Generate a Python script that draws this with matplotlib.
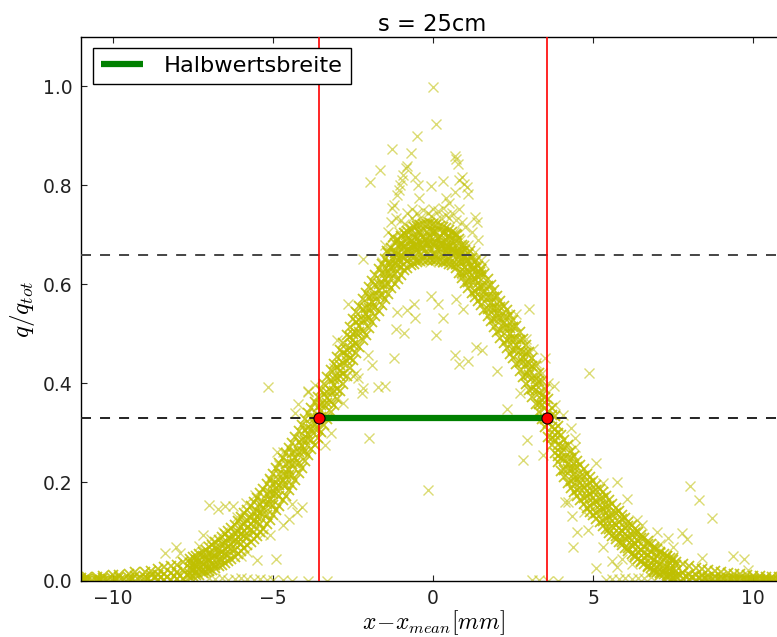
import matplotlib
matplotlib.use("Agg")
import matplotlib.pyplot as plt

# Main band: stations along x with hand-read lower edge, centre and upper edge
tail_l_x = [-11.0,-10.8,-10.5,-10.3,-10.0,-9.8,-9.5,-9.3,-9.0,-8.8,-8.6,-8.4,-8.2,-8.0,-7.8]
tail_l_lo = [.000,.001,.000,.001,.001,.000,.002,.001,.002,.001,.003,.002,.003,.004,.005]
tail_l_mid = [.003,.005,.004,.006,.005,.008,.007,.010,.009,.012,.013,.015,.016,.018,.022]
tail_l_hi = [.007,.009,.008,.011,.012,.013,.015,.018,.019,.021,.024,.028,.030,.033,.038]
tail_l_x2 = [-10.9,-10.65,-10.4,-10.15,-9.9,-9.65,-9.4,-9.15,-8.9,-8.7,-8.5,-8.3,-8.1,-7.9,-7.7]
tail_l_y2 = [.002,.003,.002,.004,.003,.004,.005,.006,.005,.008,.008,.009,.010,.011,.013]

left_x = [-7.6,-7.5,-7.4,-7.3,-7.2,-7.1,-7.0,-6.9,-6.8,-6.7,-6.6,-6.5,-6.4,-6.3,-6.2,-6.1,-6.0,-5.9,-5.8,-5.7,
          -5.6,-5.5,-5.4,-5.3,-5.2,-5.1,-5.0,-4.9,-4.8,-4.7,-4.6,-4.5,-4.4,-4.3,-4.2,-4.1,-4.0,-3.9,-3.8,-3.7,
          -3.6,-3.5,-3.4,-3.3,-3.2,-3.1,-3.0,-2.9,-2.8,-2.7,-2.6,-2.5,-2.4,-2.3,-2.2,-2.1,-2.0,-1.9,-1.8,-1.7,
          -1.6,-1.5,-1.4,-1.3,-1.2,-1.1,-1.0,-0.9,-0.8,-0.7,-0.6,-0.5,-0.4,-0.3,-0.2,-0.1,0.0]
left_mid = [.026,.028,.030,.032,.035,.038,.042,.046,.050,.055,.059,.064,.069,.075,.081,.088,.095,.102,.108,.115,
            .122,.130,.138,.147,.156,.166,.176,.186,.195,.205,.215,.225,.236,.248,.260,.272,.285,.297,.308,.318,
            .330,.343,.356,.370,.384,.396,.410,.425,.440,.456,.472,.488,.502,.515,.528,.540,.553,.565,.577,.588,
            .600,.610,.622,.632,.642,.650,.657,.665,.670,.675,.678,.680,.682,.684,.684,.685,.684]
left_lo = [.008,.010,.012,.012,.016,.018,.020,.022,.026,.030,.033,.036,.040,.044,.049,.055,.061,.067,.072,.078,
           .085,.091,.099,.106,.115,.124,.133,.143,.152,.163,.172,.183,.194,.205,.218,.229,.243,.255,.267,.276,
           .289,.301,.315,.328,.342,.355,.368,.384,.399,.414,.431,.447,.461,.474,.487,.498,.512,.524,.536,.546,
           .559,.570,.581,.592,.601,.610,.618,.628,.633,.638,.642,.645,.648,.650,.650,.651,.650]
left_hi = [.045,.048,.051,.055,.058,.062,.068,.072,.078,.083,.089,.095,.101,.108,.114,.122,.129,.137,.144,.151,
           .160,.168,.177,.187,.197,.207,.217,.228,.238,.248,.258,.268,.279,.291,.303,.315,.327,.340,.350,.361,
           .373,.386,.398,.413,.426,.439,.452,.468,.482,.498,.514,.530,.544,.556,.570,.582,.594,.607,.618,.630,
           .641,.652,.663,.673,.683,.690,.697,.703,.708,.712,.716,.717,.720,.721,.722,.723,.722]
left_in1 = [.014,.022,.018,.024,.022,.030,.026,.036,.032,.044,.042,.054,.052,.065,.062,.078,.074,.092,.088,.104,
            .100,.120,.116,.136,.134,.155,.154,.176,.172,.194,.194,.214,.214,.238,.238,.262,.262,.287,.286,.307,
            .308,.332,.334,.359,.362,.385,.388,.414,.418,.445,.450,.477,.480,.504,.506,.529,.531,.554,.555,.577,
            .578,.599,.600,.621,.620,.639,.635,.654,.648,.664,.656,.669,.660,.673,.662,.674,.662]
left_in2 = [.036,.034,.042,.040,.050,.046,.056,.054,.066,.062,.074,.076,.086,.085,.098,.100,.110,.118,.124,.128,
            .140,.142,.156,.160,.176,.178,.196,.198,.216,.216,.236,.238,.258,.260,.282,.285,.306,.310,.330,.330,
            .352,.355,.378,.382,.406,.408,.432,.437,.462,.468,.494,.500,.524,.527,.550,.552,.575,.577,.599,.600,
            .622,.622,.644,.644,.664,.662,.679,.677,.692,.687,.700,.692,.704,.696,.706,.697,.706]

right_x = [0.1,0.2,0.3,0.4,0.5,0.6,0.7,0.8,0.9,1.0,1.1,1.2,1.3,1.4,1.5,1.6,1.7,1.8,1.9,2.0,
           2.1,2.2,2.3,2.4,2.5,2.6,2.7,2.8,2.9,3.0,3.1,3.2,3.3,3.4,3.5,3.6,3.7,3.8,3.9,4.0,
           4.1,4.2,4.3,4.4,4.5,4.6,4.7,4.8,4.9,5.0,5.1,5.2,5.3,5.4,5.5,5.6,5.7,5.8,5.9,6.0,
           6.1,6.2,6.3,6.4,6.5,6.6,6.7,6.8,6.9,7.0,7.1,7.2,7.3,7.4,7.5,7.6]
right_mid = [.683,.682,.680,.678,.675,.671,.665,.656,.645,.635,.627,.618,.610,.602,.595,.585,.574,.563,.552,.541,
             .531,.521,.511,.500,.490,.478,.465,.452,.439,.426,.411,.396,.381,.365,.350,.330,.312,.295,.276,.258,
             .247,.236,.226,.216,.207,.199,.190,.182,.175,.168,.160,.153,.145,.137,.129,.122,.114,.108,.102,.096,
             .089,.082,.075,.069,.063,.057,.052,.047,.042,.038,.034,.031,.028,.025,.023,.021]
right_lo = [.649,.648,.646,.645,.641,.638,.632,.623,.612,.602,.592,.583,.574,.566,.558,.547,.536,.525,.514,.503,
            .492,.482,.472,.460,.450,.438,.425,.412,.399,.386,.372,.358,.342,.327,.312,.292,.275,.258,.240,.222,
            .210,.199,.189,.180,.171,.163,.155,.147,.140,.133,.126,.119,.112,.105,.097,.091,.084,.078,.072,.067,
            .061,.055,.049,.044,.039,.034,.030,.026,.022,.019,.016,.014,.012,.011,.009,.008]
right_hi = [.719,.718,.716,.714,.710,.706,.701,.691,.680,.670,.662,.654,.646,.637,.631,.620,.610,.599,.589,.577,
            .567,.557,.548,.537,.527,.515,.503,.490,.477,.464,.450,.435,.420,.404,.388,.368,.350,.333,.314,.296,
            .285,.274,.263,.253,.243,.235,.226,.217,.210,.203,.195,.187,.179,.171,.163,.155,.147,.141,.134,.128,
            .120,.113,.106,.099,.093,.086,.080,.075,.069,.064,.058,.054,.050,.046,.042,.038]
right_in1 = [.660,.672,.658,.668,.652,.661,.642,.646,.622,.625,.604,.608,.587,.592,.572,.575,.551,.553,.529,.531,
             .508,.511,.488,.490,.467,.468,.442,.442,.416,.416,.388,.386,.358,.355,.327,.320,.289,.285,.253,.248,
             .224,.226,.203,.206,.184,.189,.167,.172,.152,.158,.137,.143,.122,.127,.106,.112,.091,.098,.079,.086,
             .066,.072,.052,.059,.040,.047,.029,.037,.019,.028,.012,.021,.008,.015,.006,.011]
right_in2 = [.706,.695,.703,.690,.698,.683,.688,.668,.668,.647,.650,.630,.633,.614,.618,.597,.597,.575,.575,.553,
             .554,.533,.534,.512,.513,.490,.488,.464,.462,.438,.434,.408,.404,.377,.373,.342,.335,.307,.299,.270,
             .270,.248,.249,.228,.230,.211,.213,.194,.198,.180,.183,.165,.168,.149,.152,.134,.137,.120,.125,.108,
             .112,.094,.098,.081,.086,.069,.075,.059,.065,.050,.057,.043,.051,.037,.046,.033]

tail_r_x = [7.8,8.0,8.2,8.4,8.6,8.8,9.0,9.2,9.4,9.6,9.8,10.0,10.2,10.4,10.6,10.8]
tail_r_lo = [.004,.003,.003,.002,.002,.001,.002,.001,.001,.001,.000,.001,.000,.001,.000,.000]
tail_r_mid = [.016,.013,.012,.010,.009,.008,.008,.007,.006,.006,.005,.004,.004,.004,.003,.003]
tail_r_hi = [.034,.030,.027,.024,.022,.020,.018,.017,.015,.014,.013,.011,.010,.009,.008,.008]
tail_r_x2 = [7.7,7.9,8.1,8.3,8.5,8.7,8.9,9.1,9.3,9.5,9.7,9.9,10.1,10.3,10.5,10.7]
tail_r_y2 = [.012,.010,.008,.007,.006,.005,.005,.004,.004,.003,.003,.002,.003,.002,.002,.001]

# Points lying on the axis under the flanks
base_x = [-7.0,-6.8,-6.6,-6.4,-6.2,-6.0,-5.8,-5.6,-5.4,-5.2,-5.0,-4.7,-4.4,-3.9,-3.3,3.1,3.3,3.6,3.9,5.4,5.6,5.8,6.0,6.2,6.4,6.6,6.8]
base_y = [.006,.004,.007,.003,.005,.006,.004,.003,.005,.002,.003,.002,.001,.001,.000,.002,.003,.001,.000,.003,.005,.004,.006,.005,.007,.006,.008]

# Summit cloud
cloud_x = [-1.6,-1.5,-1.4,-1.35,-1.3,-1.2,-1.15,-1.1,-1.05,-1.0,-0.95,-0.9,-0.85,-0.8,-0.75,-0.7,-0.65,-0.6,-0.55,-0.5,
           -0.45,-0.4,-0.35,-0.3,-0.25,-0.2,-0.15,-0.1,-0.05,0.0,0.05,0.1,0.15,0.2,0.25,0.3,0.35,0.4,0.45,0.5,
           0.55,0.6,0.65,0.7,0.75,0.8,0.85,0.9,0.95,1.0,1.1,1.2,1.3,1.4,1.5,1.6,-1.3,-1.1,-0.9,-0.7,
           -0.5,-0.3,-0.1,0.1,0.3,0.5,0.7,0.9,1.1,1.3,-1.2,-1.0,-0.8,-0.6,-0.4,-0.2,0.0,0.2,0.4,0.6,
           0.8,1.0,1.2]
cloud_y = [.645,.680,.705,.665,.725,.690,.735,.655,.705,.730,.675,.722,.690,.745,.660,.710,.735,.695,.725,.745,
           .665,.735,.705,.750,.670,.728,.745,.695,.738,.752,.668,.730,.748,.690,.735,.755,.672,.740,.700,.735,
           .668,.745,.705,.730,.660,.752,.690,.725,.660,.715,.680,.705,.665,.690,.650,.640,.615,.635,.640,.650,
           .650,.655,.645,.650,.645,.650,.640,.620,.610,.585,.670,.685,.650,.665,.700,.660,.710,.665,.665,.700,
           .665,.655,.650]
cloud2_x = [-1.45,-1.25,-1.05,-0.85,-0.65,-0.45,-0.25,-0.05,0.15,0.35,0.55,0.75,0.95,1.15,1.35,-1.35,-1.15,-0.95,-0.75,-0.55,
            -0.35,-0.15,0.05,0.25,0.45,0.65,0.85,1.05,1.25,1.45]
cloud2_y = [.668,.695,.680,.700,.688,.705,.690,.708,.692,.706,.690,.700,.678,.668,.650,.640,.660,.655,.672,.678,
            .676,.680,.678,.682,.676,.672,.662,.648,.630,.625]

# Fringe and isolated points
out_x = [-0.0,0.09,-0.5,-1.28,-0.69,0.69,0.72,0.78,-0.81,-0.84,-1.66,-1.97,-1.12,-1.08,-1.03,-0.98,-0.95,-0.56,-0.47,-0.06,
         0.31,0.9,0.8,0.95,1.06,1.1,0.69,0.4,-0.44,-1.22,-1.27,-0.66,0.5,1.31,1.38,-2.2,-5.16,-7.0,-6.72,-6.5,
         -6.25,-5.84,-5.56,-8.37,-8.03,-7.9,-7.19,-7.3,-6.95,-6.56,-6.13,-4.22,-3.9,-4.31,-4.87,-4.7,-4.8,-5.1,-5.1,-4.9,
         -5.5,-4.69,-4.25,-4.1,-3.37,-2.66,-3.0,-3.9,-3.69,-0.06,0.16,-0.59,-0.56,-0.81,-1.13,-1.16,-0.9,-1.22,0.31,0.09,
         0.94,0.7,1.34,1.53,0.69,1.1,0.81,2.0,2.31,2.94,2.72,3.78,3.5,3.0,3.13,-2.0,-1.5,-1.72,-2.22,-2.2,
         -1.91,-2.03,-2.34,-2.5,-0.15,4.87,8.03,8.31,8.72,5.75,6.06,5.09,5.31,2.81,3.44,3.81,4.06,4.37,5.09,4.5,
         4.84,4.34,4.12,4.2,4.44,4.44,4.3,6.37,6.53,7.0,7.34,7.78,7.94,8.41,9.37,9.72,9.84,7.5,7.1,5.75,
         5.31,-6.0,-5.8,-5.3,-4.5,-4.4,-3.2,-2.8,-2.4,-3.1,2.6,2.9,3.2,3.4,3.6,4.7,5.6,5.9,6.2,6.8]
out_y = [.998,.925,.900,.873,.866,.859,.853,.844,.840,.835,.832,.806,.780,.790,.800,.810,.820,.816,.800,.798,
         .808,.816,.810,.803,.796,.782,.786,.774,.774,.760,.755,.753,.765,.737,.725,.652,.392,.153,.145,.152,
         .152,.157,.173,.057,.069,.056,.093,.070,.085,.099,.129,.358,.382,.339,.260,.260,.235,.204,.093,.044,
         .042,.113,.139,.150,.275,.560,.487,.384,.396,.576,.561,.560,.531,.547,.543,.509,.501,.450,.531,.497,
         .551,.570,.473,.467,.457,.444,.438,.424,.347,.285,.380,.394,.450,.551,.470,.289,.394,.392,.380,.390,
         .436,.457,.410,.415,.184,.420,.192,.164,.127,.200,.166,.238,.198,.244,.255,.356,.335,.069,.026,.099,
         .103,.131,.160,.160,.289,.270,.310,.123,.113,.099,.087,.097,.085,.046,.050,.044,.022,.068,.075,.029,
         .069,.050,.058,.095,.125,.155,.300,.360,.420,.430,.540,.490,.440,.420,.400,.140,.040,.045,.035,.018]

hm_levels = [0.33, 0.66]
hm_left = -3.56
hm_right = 3.56
hm_y = 0.33
x_ticks = [-10, -5, 0, 5, 10]
y_ticks = [0.0, 0.2, 0.4, 0.6, 0.8, 1.0]
title_text = "s = 25cm"
legend_text = "Halbwertsbreite"

plt.rcParams["mathtext.fontset"] = "cm"
plt.rcParams["lines.scale_dashes"] = False
W, H = 777, 637
fig = plt.figure(figsize=(W / 100, H / 100), dpi=100)
ax = fig.add_axes([81 / W, 1 - 581 / H, (790 - 81) / W, (581 - 37) / H])

band_groups = [
    (tail_l_x, tail_l_lo), (tail_l_x, tail_l_mid), (tail_l_x, tail_l_hi), (tail_l_x2, tail_l_y2),
    (left_x, left_lo), (left_x, left_mid), (left_x, left_hi), (left_x, left_in1), (left_x, left_in2),
    (right_x, right_lo), (right_x, right_mid), (right_x, right_hi), (right_x, right_in1), (right_x, right_in2),
    (tail_r_x, tail_r_lo), (tail_r_x, tail_r_mid), (tail_r_x, tail_r_hi), (tail_r_x2, tail_r_y2),
    (cloud2_x, cloud2_y),
]
loose_groups = [(base_x, base_y), (cloud_x, cloud_y), (out_x, out_y)]
yellow = (0.75, 0.75, 0)
for gx, gy in band_groups:
    ax.plot(gx, gy, ls="none", marker="x", ms=7, mew=1.3, color=yellow, alpha=0.85, zorder=2)
for gx, gy in loose_groups:
    ax.plot(gx, gy, ls="none", marker="x", ms=7, mew=1.0, color=yellow, alpha=0.55, zorder=2)

ax.axhline(hm_levels[0], color="#222222", lw=1.4, ls=(0, (7.2, 6.5)), zorder=3)
ax.axhline(hm_levels[1], color="#444444", lw=1.4, ls=(0, (7.2, 6.5)), zorder=3)
ax.axvline(hm_left, color="r", lw=1.2, zorder=3)
ax.axvline(hm_right, color="r", lw=1.2, zorder=3)
ax.plot([hm_left, hm_right], [hm_y, hm_y], color="g", lw=4.5, solid_capstyle="butt", label=legend_text, zorder=4)
ax.plot([hm_left, hm_right], [hm_y, hm_y], ls="none", marker="o", ms=8, mfc="r", mec="k", mew=0.8, zorder=5)

ax.set_xlim(-11, 11.15)
ax.set_ylim(0, 1.1)
ax.set_xticks(x_ticks)
ax.set_yticks(y_ticks)
ax.tick_params(direction="in", top=True, right=True, length=4, width=0.8, labelsize=13.5, pad=6, color="#222222", labelcolor="#222222")
for s in ax.spines.values():
    s.set_linewidth(1.0)
ax.set_title(title_text, fontsize=16.3, pad=4, x=0.4955)
ax.set_xlabel(r"$x\!-\!x_{mean}[mm]$", fontsize=17, labelpad=0, x=0.4975)
ax.set_ylabel(r"$q/q_{tot}$", fontsize=18, labelpad=4)
leg = ax.legend(loc="upper left", bbox_to_anchor=(5 / 709, 0.992), fontsize=16.2,
                fancybox=False, framealpha=1, edgecolor="k", handlelength=1.9, borderaxespad=0.3,
                borderpad=0.35, handletextpad=0.9)
leg.get_frame().set_linewidth(1.0)

fig.savefig("out.png", dpi=100)
